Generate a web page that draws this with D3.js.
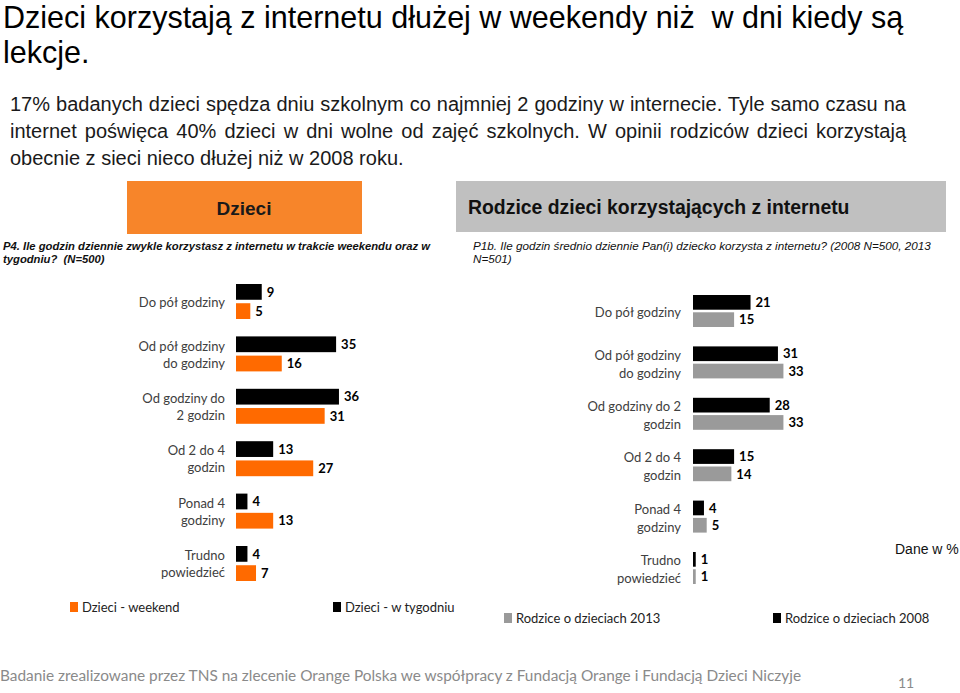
<!DOCTYPE html>
<html><head><meta charset="utf-8">
<script src="https://cdn.jsdelivr.net/npm/d3@7"></script>
<style>
html,body{margin:0;padding:0;background:#fff;}
svg{display:block;}
</style></head>
<body>
<svg id="c" width="960" height="693"></svg>
<script>
// ---- data ----
const categories = ["Do pół godziny","Od pół godziny do godziny","Od godziny do 2 godzin","Od 2 do 4 godzin","Ponad 4 godziny","Trudno powiedzieć"];
const leftLabelLines = [["Do pół godziny"],["Od pół godziny","do godziny"],["Od godziny do","2 godzin"],["Od 2 do 4","godzin"],["Ponad 4","godziny"],["Trudno","powiedzieć"]];
const rightLabelLines = [["Do pół godziny"],["Od pół godziny","do godziny"],["Od godziny do 2","godzin"],["Od 2 do 4","godzin"],["Ponad 4","godziny"],["Trudno","powiedzieć"]];
const kidsWeekday = [9,35,36,13,4,4];     // Dzieci - w tygodniu
const kidsWeekend = [5,16,31,27,13,7];    // Dzieci - weekend
const parents2008 = [21,31,28,15,4,1];    // Rodzice o dzieciach 2008
const parents2013 = [15,33,33,14,5,1];    // Rodzice o dzieciach 2013

const titleLines = ["Dzieci korzystają z internetu dłużej w weekendy niż  w dni kiedy są","lekcje."];
const subtitleLines = [
 "17% badanych dzieci spędza dniu szkolnym co najmniej 2 godziny w internecie. Tyle samo czasu na",
 "internet poświęca 40% dzieci w dni wolne od zajęć szkolnych. W opinii rodziców dzieci korzystają",
 "obecnie z sieci nieco dłużej niż w 2008 roku."];

const ORANGE = "#FF6A00", BLACK = "#000000", GREY = "#9A9A9A";
const LABEL_FONT = "Lato, 'Open Sans', sans-serif";
const svg = d3.select("#c");

// ---- title ----
svg.append("g").selectAll("text").data(titleLines).join("text")
  .attr("x", 3).attr("y", (d,i)=>28 + i*35)
  .attr("font-family","'Liberation Sans', Arial, sans-serif").attr("font-size",30.5)
  .attr("fill","#000").style("white-space","pre").text(d=>d);

// subtitle (justified)
const sub = svg.append("g").selectAll("text").data(subtitleLines).join("text")
  .attr("x", 10).attr("y", (d,i)=>111 + i*27)
  .attr("font-family","'Liberation Sans', Arial, sans-serif").attr("font-size",20)
  .attr("fill","#1a1a1a").text(d=>d);
sub.each(function(d,i){
  if (i === subtitleLines.length-1) return;
  const w = this.getComputedTextLength();
  const spaces = (d.match(/ /g)||[]).length;
  const target = 896;
  if (spaces) d3.select(this).attr("word-spacing", (target - w)/spaces);
});

// ---- header boxes ----
svg.append("rect").attr("x",127).attr("y",181).attr("width",235).attr("height",53).attr("fill","#F7852A");
svg.append("text").attr("x",244).attr("y",215).attr("text-anchor","middle")
  .attr("font-family","'Liberation Sans', Arial, sans-serif").attr("font-weight","bold").attr("font-size",19)
  .attr("fill","#1a1a1a").text("Dzieci");
svg.append("rect").attr("x",456).attr("y",181).attr("width",490).attr("height",51).attr("fill","#C0C0C0");
svg.append("text").attr("x",468).attr("y",214)
  .attr("font-family","'Liberation Sans', Arial, sans-serif").attr("font-weight","bold").attr("font-size",19.4)
  .attr("fill","#111").text("Rodzice dzieci korzystających z internetu");

// questions
const qL = ["P4. Ile godzin dziennie zwykle korzystasz z internetu w trakcie weekendu oraz w","tygodniu?  (N=500)"];
svg.append("g").selectAll("text").data(qL).join("text")
  .attr("x",3).attr("y",(d,i)=>250+i*13)
  .attr("font-family","'Liberation Sans', Arial, sans-serif").attr("font-weight","bold").attr("font-style","italic")
  .attr("font-size",11.25).attr("fill","#111").style("white-space","pre").text(d=>d);
const qR = ["P1b. Ile godzin średnio dziennie Pan(i) dziecko korzysta z internetu? (2008 N=500, 2013","N=501)"];
svg.append("g").selectAll("text").data(qR).join("text")
  .attr("x",473).attr("y",(d,i)=>250+i*13)
  .attr("font-family","'Liberation Sans', Arial, sans-serif").attr("font-style","italic")
  .attr("font-size",11.7).attr("fill","#111").text(d=>d);

// ---- chart builder ----
function barChart(cfg){
  const g = svg.append("g");
  const x = d3.scaleLinear().domain([0,100]).range([cfg.x0, cfg.x0 + cfg.pxPer100]);
  const y = d3.scaleBand().domain(categories).range([cfg.top, cfg.top + cfg.step*categories.length]).padding(0).align(0);
  const ys = d3.scaleBand().domain([0,1]).range([0, cfg.pair]).paddingInner(cfg.inner);
  cfg.series.forEach((s, si) => {
    g.append("g").selectAll("rect").data(s.values).join("rect")
      .attr("x", x(0))
      .attr("y", (d,i)=> y(categories[i]) + ys(si))
      .attr("width", d => x(d) - x(0))
      .attr("height", ys.bandwidth())
      .attr("fill", s.color);
    g.append("g").selectAll("text").data(s.values).join("text")
      .attr("x", d => x(d) + 5)
      .attr("y", (d,i)=> y(categories[i]) + ys(si) + ys.bandwidth()/2)
      .attr("dy","0.36em")
      .attr("font-family", LABEL_FONT).attr("font-weight","bold").attr("font-size",13)
      .attr("fill","#000").text(d=>d);
  });
  // category labels
  categories.forEach((c,i)=>{
    const lines = cfg.labels[i];
    const cy = y(c) + cfg.pair/2 + cfg.labelShift;
    const t = g.append("text").attr("text-anchor","end")
      .attr("font-family", LABEL_FONT).attr("font-size",13).attr("fill","#404040");
    lines.forEach((l,li)=>{
      t.append("tspan").attr("x", cfg.labelX)
        .attr("y", cy + (li - (lines.length-1)/2)*cfg.lh)
        .attr("dy","0.36em").text(l);
    });
  });
}

barChart({x0:236, pxPer100:286, top:284, step:52.4, pair:35, inner:0.18, labelX:225, lh:17, labelShift:0.5,
  labels:leftLabelLines,
  series:[{values:kidsWeekday,color:BLACK},{values:kidsWeekend,color:ORANGE}]});
barChart({x0:693, pxPer100:274, top:295, step:51.4, pair:32, inner:0.15, labelX:681, lh:18, labelShift:1.5,
  labels:rightLabelLines,
  series:[{values:parents2008,color:BLACK},{values:parents2013,color:GREY}]});

// ---- legends ----
const legendItems = [
  {label:"Dzieci - weekend", color:ORANGE, x:70, y:607},
  {label:"Dzieci - w tygodniu", color:BLACK, x:333, y:607},
  {label:"Rodzice o dzieciach 2013", color:GREY, x:504, y:618},
  {label:"Rodzice o dzieciach 2008", color:BLACK, x:773, y:618}
];
const lg = svg.append("g").selectAll("g").data(legendItems).join("g")
  .attr("transform", d=>`translate(${d.x},${d.y})`);
lg.append("rect").attr("x",0).attr("y",-5).attr("width",8).attr("height",10).attr("fill",d=>d.color);
lg.append("text").attr("x",12).attr("dy","0.36em")
  .attr("font-family",LABEL_FONT).attr("font-size",13).attr("fill","#222").text(d=>d.label);

svg.append("text").attr("x",895).attr("y",554)
  .attr("font-family","'Liberation Sans', Arial, sans-serif").attr("font-size",14).attr("fill","#111").text("Dane w %");

// footer
svg.append("text").attr("x",0).attr("y",681)
  .attr("font-family",LABEL_FONT).attr("font-size",15.5).attr("fill","#8a8a8a")
  .attr("textLength",801).attr("lengthAdjust","spacingAndGlyphs")
  .text("Badanie zrealizowane przez TNS na zlecenie Orange Polska we współpracy z Fundacją Orange i Fundacją Dzieci Niczyje");
svg.append("text").attr("x",898).attr("y",688)
  .attr("font-family",LABEL_FONT).attr("font-size",14).attr("fill","#8a8a8a").text("11");
</script>
</body></html>
